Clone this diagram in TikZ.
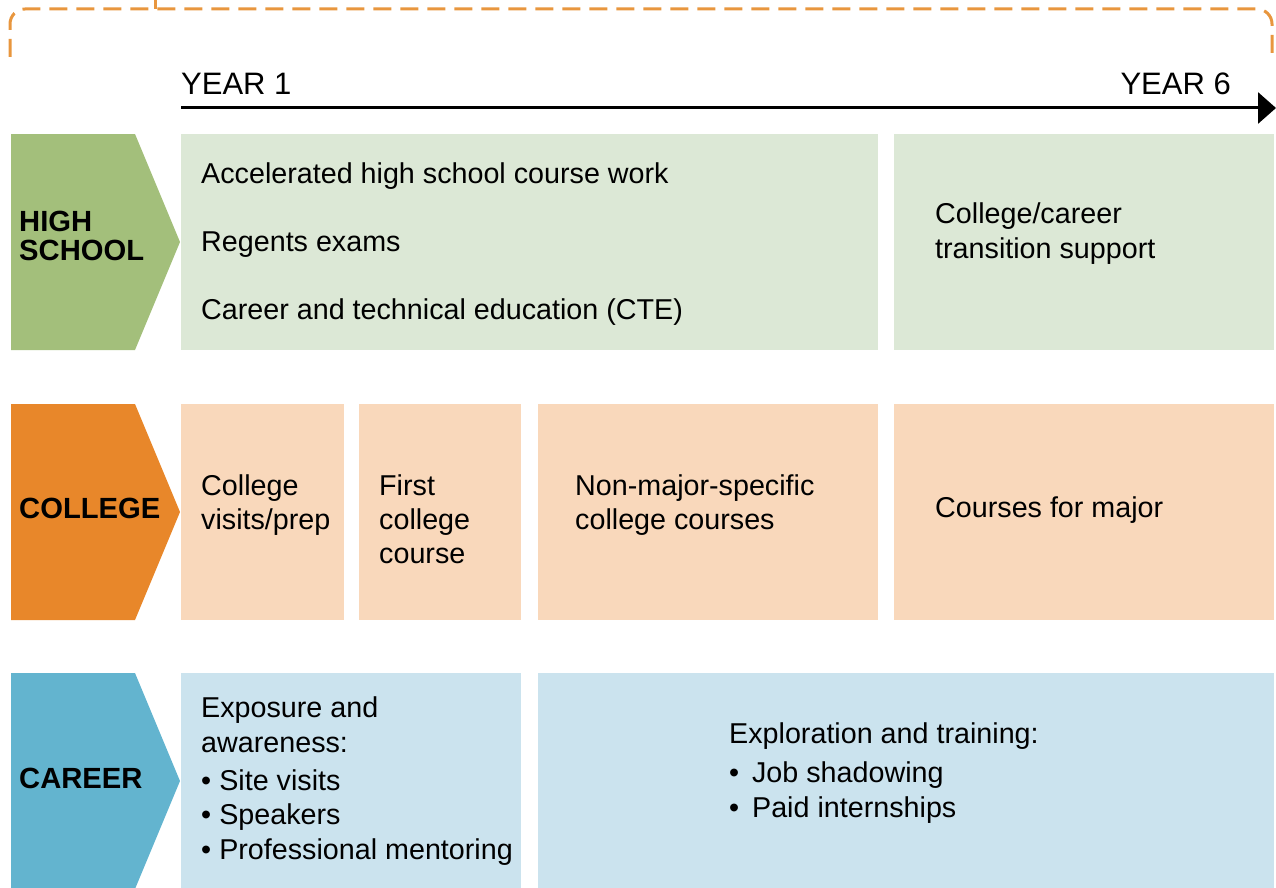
\documentclass[tikz,border=0pt]{standalone}
\usepackage{fontspec}
\setmainfont{Liberation Sans}
\usetikzlibrary{arrows.meta}
\definecolor{hsdark}{HTML}{A3BF7B}
\definecolor{hslight}{HTML}{DCE8D6}
\definecolor{coldark}{HTML}{E8872A}
\definecolor{collight}{HTML}{F9D8BB}
\definecolor{cardark}{HTML}{63B4CF}
\definecolor{carlight}{HTML}{CBE3EE}
\definecolor{braceorange}{HTML}{E8963E}
\tikzset{
  txt/.style={anchor=base west, inner sep=0pt, font=\fontsize{28.7}{34}\selectfont, text=black},
  lbl/.style={anchor=base west, inner sep=0pt, font=\fontsize{29.2}{34}\selectfont\bfseries, text=black},
  yr/.style={inner sep=0pt, font=\fontsize{31}{36}\selectfont, text=black},
}
\begin{document}
\begin{tikzpicture}[x=1pt,y=-1pt]
\useasboundingbox (0,0) rectangle (1276,888);
% brace
\draw[braceorange, line width=3pt, dash pattern=on 18pt off 9pt, rounded corners=15pt]
  (10,57) -- (10,9) -- (1272,9) -- (1272,57);
\draw[braceorange, line width=3pt] (155,9) -- (155,0);
% timeline
\coordinate (t0) at (181,108);
\coordinate (t1) at (1276,108);
\draw[line width=3pt, -{Triangle[length=18pt,width=31pt]}] (t0) -- (t1);
\node[yr, anchor=base west] (y1) at (181,95) {YEAR 1};
\node[yr, anchor=base east] (y6) at (1231,95) {YEAR 6};
% HIGH SCHOOL row
\fill[hsdark] (11,134) -- (135,134) -- (180,242) -- (135,350) -- (11,350) -- cycle;
\fill[hslight] (181,134) rectangle (878,350);
\fill[hslight] (894,134) rectangle (1274,350);
\node[lbl] (hs1) at (19,231) {HIGH};
\node[lbl] (hs2) at (19,260) {SCHOOL};
\node[txt] (a1) at (201,183) {Accelerated high school course work};
\node[txt] (a2) at (201,251) {Regents exams};
\node[txt] (a3) at (201,319) {Career and technical education (CTE)};
\node[txt] (b1) at (935,223) {College/career};
\node[txt] (b2) at (935,258) {transition support};
% COLLEGE row
\fill[coldark] (11,404) -- (135,404) -- (180,512) -- (135,620) -- (11,620) -- cycle;
\fill[collight] (181,404) rectangle (344,620);
\fill[collight] (359,404) rectangle (521,620);
\fill[collight] (538,404) rectangle (878,620);
\fill[collight] (894,404) rectangle (1274,620);
\node[lbl] (col) at (19,518) {COLLEGE};
\node[txt] (c1) at (201,495) {College};
\node[txt] (c2) at (201,529) {visits/prep};
\node[txt] (d1) at (379,495) {First};
\node[txt] (d2) at (379,529) {college};
\node[txt] (d3) at (379,563) {course};
\node[txt] (e1) at (575,495) {Non-major-specific};
\node[txt] (e2) at (575,529) {college courses};
\node[txt] (f1) at (935,517) {Courses for major};
% CAREER row
\fill[cardark] (11,673) -- (135,673) -- (180,781) -- (135,889) -- (11,889) -- cycle;
\fill[carlight] (181,673) rectangle (521,889);
\fill[carlight] (538,673) rectangle (1274,889);
\node[lbl] (car) at (19,788) {CAREER};
\node[txt] (g1) at (201,717) {Exposure and};
\node[txt] (g2) at (201,752) {awareness:};
\node[txt] (g3) at (201,790) {•\hspace{0.28em}Site visits};
\node[txt] (g4) at (201,824) {•\hspace{0.28em}Speakers};
\node[txt] (g5) at (201,859) {•\hspace{0.28em}Professional mentoring};
\node[txt] (h1) at (729,743) {Exploration and training:};
\node[txt] (h2) at (729,782) {•\hspace{0.45em}Job shadowing};
\node[txt] (h3) at (729,817) {•\hspace{0.45em}Paid internships};
\end{tikzpicture}
\end{document}
